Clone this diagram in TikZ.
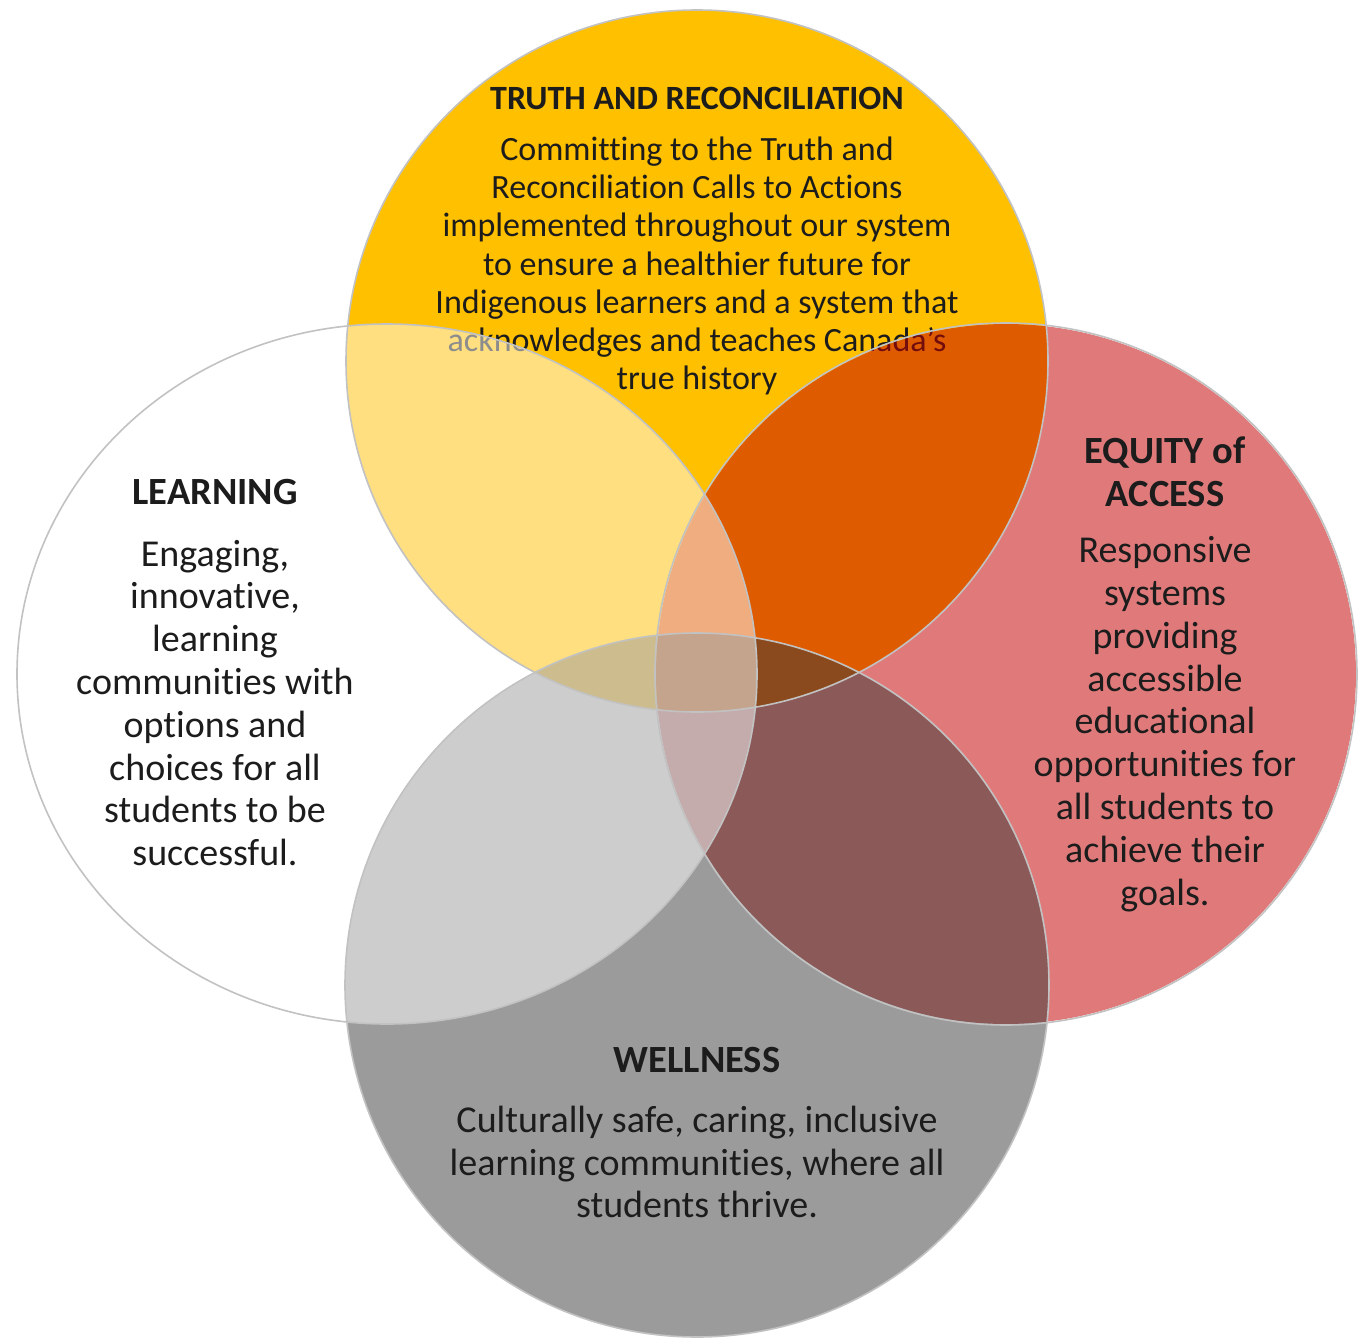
\documentclass[tikz,border=0pt]{standalone}
\usepackage{fontspec}
\setmainfont[Ligatures=CommonOff]{Carlito}

\definecolor{truthgold}{HTML}{FFC000}
\definecolor{equityred}{HTML}{C30000}
\definecolor{wellgray}{HTML}{3A3A3A}
\definecolor{rimgray}{HTML}{C2C2C2}
\definecolor{inkdark}{HTML}{1C1C1C}

\tikzset{
  rim/.style={draw=rimgray,line width=1.6pt},
  headtext/.style={font=\fontsize{38.5}{42.5}\selectfont\bfseries,text=inkdark,align=center,inner sep=0pt},
  tophead/.style={headtext,font=\fontsize{34}{40}\selectfont\bfseries},
  toptext/.style={font=\fontsize{34}{38.2}\selectfont,text=inkdark,align=center,inner sep=0pt},
  bodytext/.style={font=\fontsize{38}{42.8}\selectfont,text=inkdark,align=center,inner sep=0pt}
}

\begin{document}
\begin{tikzpicture}[x=1pt,y=-1pt]
  \useasboundingbox (0,0) rectangle (1361,1341);

  % centres of the four circles
  \coordinate (T) at (697,361);
  \coordinate (E) at (1006,674);
  \coordinate (W) at (697,985);
  \coordinate (L) at (387,674);

  % truth and reconciliation
  \fill[truthgold] (T) circle [radius=351];
  \node[tophead] (Thead) at (697,98) {TRUTH AND RECONCILIATION};
  \node[toptext] (Tbody) at (697,266) {Committing to the Truth and\\
    Reconciliation Calls to Actions\\
    implemented throughout our system\\
    to ensure a healthier future for\\
    Indigenous learners and a system that\\
    acknowledges and teaches Canada’s\\
    true history};

  % equity of access
  \fill[equityred,fill opacity=.52] (E) circle [radius=350];
  \node[headtext] (Ehead) at (1165,472) {EQUITY of\\ACCESS};
  \node[bodytext] (Ebody) at (1165,724) {Responsive\\
    systems\\
    providing\\
    accessible\\
    educational\\
    opportunities for\\
    all students to\\
    achieve their\\
    goals.};

  % wellness
  \fill[wellgray,fill opacity=.505] (W) circle [radius=352];
  \node[headtext] (Whead) at (697,1060) {WELLNESS};
  \node[bodytext] (Wbody) at (697,1162) {Culturally safe, caring, inclusive\\
    learning communities, where all\\
    students thrive.};

  % learning
  \fill[white,fill opacity=.5] (L) ellipse [x radius=370,y radius=350];
  \node[headtext] (Lhead) at (215,492) {LEARNING};
  \node[bodytext] (Lbody) at (215,703) {Engaging,\\
    innovative,\\
    learning\\
    communities with\\
    options and\\
    choices for all\\
    students to be\\
    successful.};

  % outlines
  \foreach \c in {T,E}
    \draw[rim] (\c) circle [radius=351];
  \draw[rim] (W) circle [radius=352];
  \draw[rim] (L) ellipse [x radius=370,y radius=350];
\end{tikzpicture}
\end{document}
